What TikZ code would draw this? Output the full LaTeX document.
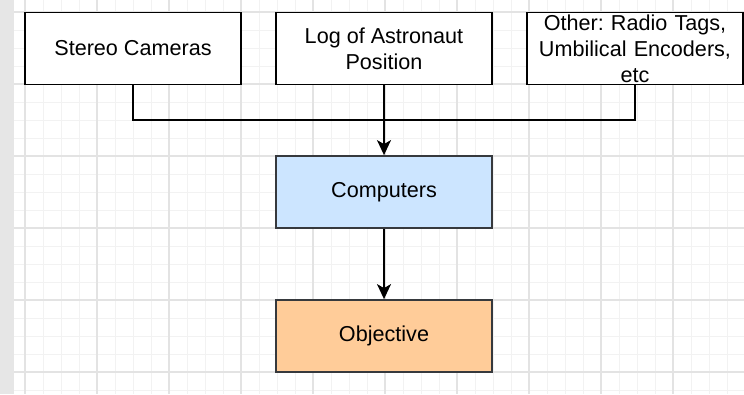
\documentclass[tikz,border=0pt]{standalone}
\usepackage{fontspec}
\setmainfont{Liberation Sans}
\usetikzlibrary{arrows.meta,positioning}
\frenchspacing
\definecolor{gridminor}{HTML}{F2F2F2}
\definecolor{gridmajor}{HTML}{E3E3E3}
\definecolor{sidegrey}{HTML}{E6E6E6}
\definecolor{edgegrey}{HTML}{36393D}
\definecolor{compblue}{HTML}{CCE5FF}
\definecolor{objorange}{HTML}{FFCC99}
\tikzset{
  srcbox/.style={
    rectangle, draw=#1, fill=white, line width=1.8pt,
    minimum width=216pt, minimum height=72pt,
    font=\fontsize{21.6}{26}\selectfont, align=center, inner sep=0pt
  },
  srcbox/.default=black,
  fillbox/.style={
    srcbox=edgegrey, fill=#1
  },
  flowline/.style={
    line width=1.8pt, draw=black
  },
  flowarrow/.style={
    flowline, -{Stealth[length=15pt, width=14pt, inset=4pt]}
  },
}

\begin{document}
\begin{tikzpicture}[x=1pt, y=-1pt]
  \useasboundingbox (0,0) rectangle (744,394);
  % Canvas and grid
  \fill[white] (0,0) rectangle (744,394);
  \foreach \gx in {25,43,...,745} \draw[gridminor, line width=1pt] (\gx,0) -- (\gx,394);
  \foreach \gy in {12,30,...,394} \draw[gridminor, line width=1pt] (14,\gy) -- (744,\gy);
  \foreach \gx in {25,97,...,745} \draw[gridmajor, line width=1.2pt] (\gx,0) -- (\gx,394);
  \foreach \gy in {12,84,...,394} \draw[gridmajor, line width=1.2pt] (14,\gy) -- (744,\gy);
  \fill[sidegrey] (0,0) rectangle (14,394);

  % Sources
  \node[srcbox] (stereo) at (133,48.5) {Stereo Cameras};
  \node[srcbox] (astrolog) at (384,48.5) {Log of Astronaut\\Position};
  \node[srcbox, text width=210pt] (other) at (635,48.5) {Other: Radio Tags,\\Umbilical Encoders,\\etc};

  % Processing
  \node[fillbox=compblue] (computers) at (384,192) {Computers};
  \node[fillbox=objorange] (objective) at (384,336) {Objective};

  % Connectors
  \coordinate (merge) at (384,120);
  \draw[flowline] (stereo.south) |- (merge);
  \draw[flowline] (other.south) |- (merge);
  \draw[flowarrow] (astrolog.south) -- (computers.north);
  \draw[flowarrow] (computers.south) -- (objective.north);
\end{tikzpicture}
\end{document}
